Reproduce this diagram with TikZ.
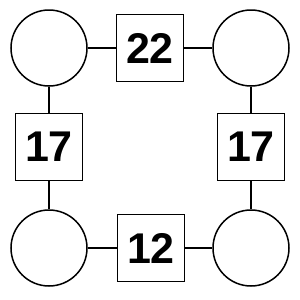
\documentclass[tikz,border=0pt]{standalone}
\usepackage{fontspec}
\setmainfont{Liberation Sans}
\usepackage{tikz}
\usetikzlibrary{positioning}

\begin{document}
\begin{tikzpicture}[x=1pt, y=-1pt, line width=1.5pt,
		spot/.style={draw, circle, minimum size=76pt, inner sep=0pt},
		sumbox/.style={draw, rectangle, minimum size=67pt, inner sep=0pt,
			font=\fontsize{43}{50}\selectfont\bfseries}]
			\useasboundingbox (0,0) rectangle (300,300);
			% Corner circles
			\node[spot] (tl) at (49,48) {};
			\node[spot] (tr) at (251,48) {};
			\node[spot] (bl) at (49,248) {};
			\node[spot] (br) at (251,248) {};

			% Sum boxes
			\node[sumbox] (top) at (150,48) {22};
			\node[sumbox] (left) at (49,147) {17};
			\node[sumbox] (right) at (251,147) {17};
			\node[sumbox] (bottom) at (151,248) {12};

			% Links
			\draw (tl) -- (top) -- (tr);
			\draw (tl) -- (left) -- (bl);
			\draw (tr) -- (right) -- (br);
			\draw (bl) -- (bottom) -- (br);
		\end{tikzpicture}
\end{document}
